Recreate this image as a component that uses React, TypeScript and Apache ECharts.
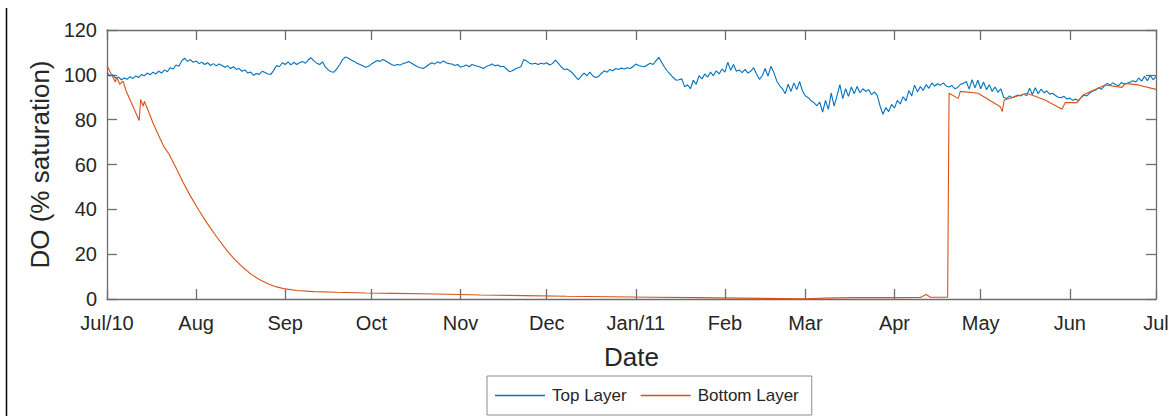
import React, { useEffect, useRef } from "react";
import * as echarts from "echarts";

// Month starts as days since 1 Jul 2010
const monthStarts = [0, 31, 62, 92, 123, 153, 184, 215, 243, 274, 304, 335, 365];
const monthLabels = ["Jul/10", "Aug", "Sep", "Oct", "Nov", "Dec", "Jan/11", "Feb", "Mar", "Apr", "May", "Jun", "Jul"];

// Top layer DO (% saturation), one value per day starting 1 Jul 2010
const topValues = [
  101, 99.5, 100, 98.5, 99, 97.8, 98.6, 98, 99.2, 98.4,
  99.5, 98.8, 100.2, 99.6, 100.8, 100, 101.2, 100.4, 101.6, 100.8,
  102.2, 101.4, 103.2, 102.6, 104.4, 103.8, 106.2, 107.4, 106, 106.8,
  105.6, 106.2, 105, 105.6, 104.6, 105.4, 104.2, 105, 104, 104.8,
  104.2, 103.4, 104, 102.8, 103.6, 102.4, 102.8, 101.6, 102.2, 100.8,
  101.2, 99.8, 100.6, 100.2, 101.6, 101, 100.4, 100.2, 102, 104.2,
  103.6, 105.4, 104.6, 105.8, 104.4, 105.6, 104.6, 105.4, 106, 105.2,
  106.6, 107.6, 106.2, 105.2, 104.6, 105.8, 103.4, 102.2, 101.4, 101.2,
  102.8, 104.6, 106.8, 108, 107.4, 106.6, 106, 105.2, 104.6, 104,
  103.4, 103.8, 104.8, 105.6, 106.4, 106, 106.8, 106.2, 105.4, 104.6,
  104.2, 104.6, 104.4, 105, 105.4, 106, 105.2, 104.4, 103.6, 103.2,
  102.8, 103.6, 104.6, 105.4, 104.8, 105.8, 105.2, 106.2, 105.4, 105,
  104.8, 104.2, 104.6, 103.4, 103.8, 104.4, 103.6, 104.6, 104.2, 103.8,
  103.4, 102.8, 103.8, 104.2, 104.8, 104, 104.4, 103.6, 103.8, 102.6,
  101.4, 101.8, 102.6, 103.2, 103.6, 106.8, 106.2, 105.2, 104.8, 105.2,
  104.6, 105.2, 104.8, 105.4, 104.4, 105, 106.6, 105.2, 103.6, 102.4,
  102.6, 101.8, 100.8, 99.2, 97.8, 99.4, 100.8, 99.6, 101.2, 99.6,
  98.8, 99.2, 100.6, 101.8, 101.2, 102.4, 101.8, 102.8, 102.4, 103,
  102.6, 103.2, 102.8, 103.6, 104.8, 104.2, 103.8, 103.6, 104.4, 105.2,
  104.6, 106.2, 107.8, 105.6, 103.4, 101.6, 100.2, 98.8, 97.6, 97.8,
  98.2, 94.6, 95.6, 93.8, 97.6, 95.8, 99.6, 98.2, 100.4, 99,
  101.2, 99.6, 101.8, 100.4, 102.6, 101.2, 105.6, 102, 104.6, 101.6,
  102.2, 101, 102.4, 100.8, 101.6, 103.2, 100.4, 98, 99.6, 102.8,
  99.4, 103.8, 101.2, 97.4, 95.2, 93.8, 91.6, 95.8, 92.6, 96.4,
  93.4, 97, 92.8, 90.6, 89.8, 88.4, 87.6, 86.2, 87.8, 83.4,
  88.6, 84.6, 91.8, 86, 90.6, 95.6, 89.4, 93.8, 90.4, 94.6,
  91.6, 94.8, 92, 93.8, 92.6, 93.4, 91.2, 92.4, 90.8, 86,
  82.4, 85.4, 83.6, 86.8, 85.2, 88.6, 87, 90.2, 88.4, 93,
  90.6, 95.4, 92.4, 94.8, 93, 95.6, 94, 96.4, 95, 96,
  95.4, 96.4, 95, 94.6, 95.2, 93.8, 94.4, 95.8, 96.2, 97,
  93.6, 97.8, 94.2, 97.6, 93.8, 96.8, 93.4, 95.6, 92.6, 94.6,
  92.2, 93.8, 90, 89.4, 90.6, 89.8, 90.4, 91, 90.6, 91.4,
  90.6, 94, 91.2, 94.2, 91.6, 93.6, 92, 92.8, 91.4, 91.8,
  90.8, 90, 89.8, 90.4, 89.2, 89.6, 88.6, 89.2, 88.4, 90,
  91, 90.6, 92, 92.8, 93.2, 94.2, 93.6, 95, 96.2, 95.4,
  96.4, 95.6, 95.2, 96.6, 95.8, 96.2, 96.8, 97.4, 96.8, 98.6,
  97.2, 99.4, 97.4, 99.8, 97.8, 99.2,
];

// Bottom layer DO: days since 1 Jul 2010 and values
const bottomDays = [
  0, 1, 2.2, 2.9, 3.4, 4.4, 5.6, 6.6, 11.2, 11.7, 12.6, 13, 14.5, 16, 18.5, 20, 21.5,
  24, 26.5, 29, 32, 35, 38, 41, 44, 47, 50, 53, 56, 59, 62, 66, 72, 80, 90, 100,
  115, 130, 145, 160, 175, 190, 205, 220, 235, 243, 250, 260, 275, 283, 285, 286.5,
  292.5, 293, 296.2, 296.9, 303.1, 310.8, 311.5, 312.2, 320.1, 326.4, 332.3, 333.4,
  337.5, 339.6, 347.3, 353.2, 354.3, 358.8, 365,
];
const bottomValues = [
  104.2, 101.5, 98.6, 96.8, 99, 95.8, 97.2, 93, 79.6, 89, 86, 88.2, 83.5, 78.5, 71.5, 67.5, 64.8,
  58.5, 52, 46, 39.5, 33.5, 28, 22.8, 18.2, 14.4, 11.2, 8.7, 6.8, 5.4, 4.5, 3.8, 3.3, 3.0, 2.7, 2.5,
  2.2, 1.8, 1.5, 1.2, 1.0, 0.8, 0.6, 0.4, 0.2, 0.1, 0.4, 0.6, 0.6, 0.7, 2.0, 0.8,
  0.8, 91.8, 89.5, 92.6, 91.8, 85.8, 83.6, 88.8, 91.8, 88.8, 84.6, 87.6,
  87.6, 91, 95.5, 94.4, 96.2, 95.5, 93.5,
];

const yTicks = { min: 0, max: 120, interval: 20 };

const FONT = "'Liberation Sans', Arial, Helvetica, sans-serif";
const AXIS_COLOR = "#6e6e6e";
const TEXT_COLOR = "#262626";
const BLUE = "#0072BD";
const ORANGE = "#D95319";

export default function App() {
  const ref = useRef<HTMLDivElement>(null);

  useEffect(() => {
    if (!ref.current) return;
    const chart = echarts.init(ref.current, null, { renderer: "svg" });
    const axisLineStyle = { color: AXIS_COLOR, width: 1.3 };
    const frameAxisLine = { show: true, onZero: false, lineStyle: axisLineStyle };
    chart.setOption({
      animation: false,
      backgroundColor: "#ffffff",
      textStyle: { fontFamily: FONT },
      grid: { left: 107, right: 20, top: 30, bottom: 117, containLabel: false },
      legend: {
        left: 487,
        top: 376,
        orient: "horizontal",
        padding: [11, 13, 11, 8],
        itemGap: 14,
        itemWidth: 50,
        itemHeight: 1.4,
        icon: "rect",
        borderColor: "#8c8c8c",
        borderWidth: 1,
        backgroundColor: "#ffffff",
        textStyle: { fontSize: 17, color: TEXT_COLOR, fontFamily: FONT, padding: [0, 0, 0, 2] },
        data: ["Top Layer", "Bottom Layer"],
      },
      xAxis: [
        {
          type: "value",
          min: 0,
          max: 365,
          name: "Date",
          nameLocation: "middle",
          nameGap: 45,
          nameTextStyle: { fontSize: 26, color: TEXT_COLOR, fontFamily: FONT },
          axisLine: frameAxisLine,
          axisTick: { show: true, inside: true, length: 10, customValues: monthStarts, lineStyle: axisLineStyle },
          axisLabel: {
            show: true,
            customValues: monthStarts,
            margin: 14,
            fontSize: 20,
            color: TEXT_COLOR,
            fontFamily: FONT,
            formatter: (v: number) => {
              const i = monthStarts.indexOf(Math.round(v));
              return i >= 0 ? monthLabels[i] : "";
            },
          },
          splitLine: { show: false },
        },
        {
          type: "value",
          position: "top",
          min: 0,
          max: 365,
          axisLine: frameAxisLine,
          axisTick: { show: true, inside: true, length: 10, customValues: monthStarts, lineStyle: axisLineStyle },
          axisLabel: { show: false },
          splitLine: { show: false },
        },
      ],
      yAxis: [
        {
          type: "value",
          min: yTicks.min,
          max: yTicks.max,
          interval: yTicks.interval,
          name: "DO (% saturation)",
          nameLocation: "middle",
          nameGap: 54,
          nameTextStyle: { fontSize: 26, color: TEXT_COLOR, fontFamily: FONT },
          axisLine: frameAxisLine,
          axisTick: { show: true, inside: true, length: 10, lineStyle: axisLineStyle },
          axisLabel: { margin: 10, fontSize: 20, color: TEXT_COLOR, fontFamily: FONT },
          splitLine: { show: false },
        },
        {
          type: "value",
          position: "right",
          min: yTicks.min,
          max: yTicks.max,
          interval: yTicks.interval,
          axisLine: frameAxisLine,
          axisTick: { show: true, inside: true, length: 10, lineStyle: axisLineStyle },
          axisLabel: { show: false },
          splitLine: { show: false },
        },
      ],
      graphic: [
        {
          type: "line",
          shape: { x1: 6.5, y1: 8, x2: 6.5, y2: 416 },
          style: { stroke: "#000000", lineWidth: 1.5 },
          silent: true,
        },
      ],
      series: [
        {
          name: "Top Layer",
          type: "line",
          xAxisIndex: 0,
          yAxisIndex: 0,
          showSymbol: false,
          symbol: "none",
          lineStyle: { color: BLUE, width: 1.1 },
          itemStyle: { color: BLUE },
          data: topValues.map((v, i) => [i, v]),
        },
        {
          name: "Bottom Layer",
          type: "line",
          xAxisIndex: 0,
          yAxisIndex: 0,
          showSymbol: false,
          symbol: "none",
          lineStyle: { color: ORANGE, width: 1.1 },
          itemStyle: { color: ORANGE },
          data: bottomDays.map((d, i) => [d, bottomValues[i]]),
        },
      ],
    });
    return () => chart.dispose();
  }, []);

  return (
    <div
      ref={ref}
      style={{ position: "absolute", left: 0, top: 0, width: 1176, height: 416 }}
    />
  );
}
